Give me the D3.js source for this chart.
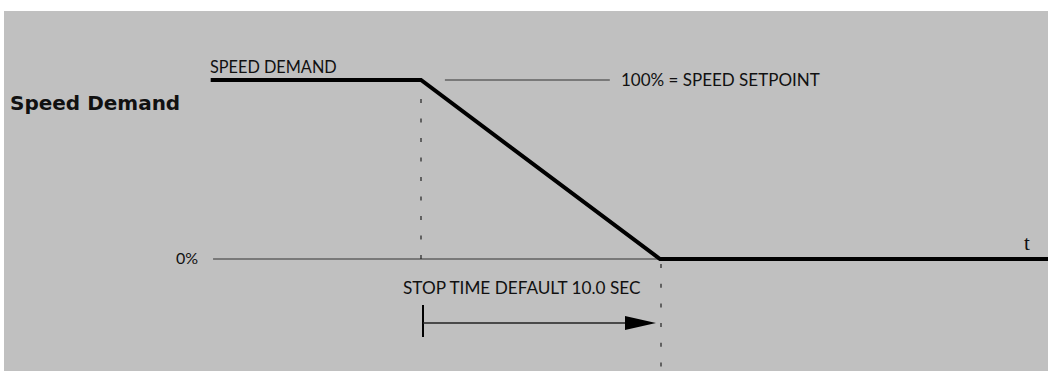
<!DOCTYPE html>
<html>
<head>
<meta charset="utf-8">
<script src="https://cdn.jsdelivr.net/npm/d3@7"></script>
<style>
  body { margin: 0; background: #fff; }
  svg { display: block; }
  text { font-family: 'Lato', 'DejaVu Sans', sans-serif; fill: #111; }
</style>
</head>
<body>
<div id="chart"></div>
<script>
// stop ramp: time in seconds (0 = stop command), speed demand in %
var demandTime = [-8.8, 0, 10, 16.2]
var demandPct = [100, 100, 0, 0]
var stopTime = 10.0
var zeroLineStart = -8.7
var setpointLine = [1, 7.9]

var width = 1048
var height = 371

var svg = d3
  .select('#chart')
  .append('svg')
  .attr('width', width)
  .attr('height', height)

svg
  .append('rect')
  .attr('x', 4)
  .attr('y', 11)
  .attr('width', width - 4)
  .attr('height', height - 11)
  .attr('fill', '#c0c0c0')

var x = d3.scaleLinear().domain([0, stopTime]).range([421, 660])
var y = d3.scaleLinear().domain([0, 100]).range([259, 80])

// extend last point to right edge
demandTime[3] = x.invert(width)

// 0% reference line
svg
  .append('line')
  .attr('x1', x(zeroLineStart))
  .attr('x2', x(stopTime))
  .attr('y1', y(0))
  .attr('y2', y(0))
  .attr('stroke', '#333')
  .attr('stroke-width', 1.2)

// setpoint leader line
svg
  .append('line')
  .attr('x1', x(setpointLine[0]))
  .attr('x2', x(setpointLine[1]))
  .attr('y1', y(100))
  .attr('y2', y(100))
  .attr('stroke', '#333')
  .attr('stroke-width', 1.2)

// dashed markers
svg
  .append('line')
  .attr('x1', x(0))
  .attr('x2', x(0))
  .attr('y1', y(100) + 19)
  .attr('y2', y(0))
  .attr('stroke', '#222')
  .attr('stroke-width', 1.2)
  .attr('stroke-dasharray', '4,15.5')

svg
  .append('line')
  .attr('x1', x(stopTime) + 1)
  .attr('x2', x(stopTime) + 1)
  .attr('y1', y(0) + 5)
  .attr('y2', height)
  .attr('stroke', '#222')
  .attr('stroke-width', 1.2)
  .attr('stroke-dasharray', '4,15.7')

var line = d3
  .line()
  .x(function(d, i) { return x(demandTime[i]) })
  .y(function(d) { return y(d) })

svg
  .append('path')
  .datum(demandPct)
  .attr('d', line)
  .attr('fill', 'none')
  .attr('stroke', '#000')
  .attr('stroke-width', 4)
  .attr('stroke-linejoin', 'miter')

// stop time arrow
var arrowY = 323
svg
  .append('line')
  .attr('x1', x(0) + 2)
  .attr('x2', x(0) + 2)
  .attr('y1', 305)
  .attr('y2', 337)
  .attr('stroke', '#000')
  .attr('stroke-width', 2)

svg
  .append('line')
  .attr('x1', x(0) + 2)
  .attr('x2', x(stopTime) - 30)
  .attr('y1', arrowY)
  .attr('y2', arrowY)
  .attr('stroke', '#222')
  .attr('stroke-width', 1.3)

var tip = x(stopTime) - 4
svg
  .append('path')
  .attr('d', 'M' + (tip - 31) + ',' + (arrowY - 7) + 'L' + tip + ',' + arrowY + 'L' + (tip - 31) + ',' + (arrowY + 7) + 'Z')
  .attr('fill', '#000')

// labels
svg
  .append('text')
  .attr('x', 10)
  .attr('y', 110)
  .attr('font-size', 20)
  .attr('font-weight', 'bold')
  .style('font-family', 'DejaVu Sans')
  .text('Speed Demand')

svg
  .append('text')
  .attr('x', 210)
  .attr('y', 73)
  .attr('font-size', 16.3)
  .text('SPEED DEMAND')

svg
  .append('text')
  .attr('x', 621)
  .attr('y', 86)
  .attr('font-size', 17)
  .text('100% = SPEED SETPOINT')

svg
  .append('text')
  .attr('x', 198)
  .attr('y', 264)
  .attr('font-size', 16)
  .attr('text-anchor', 'end')
  .text('0%')

svg
  .append('text')
  .attr('x', 1024)
  .attr('y', 250)
  .attr('font-size', 21)
  .style('font-family', 'Liberation Serif, serif')
  .text('t')

svg
  .append('text')
  .attr('x', 403)
  .attr('y', 294)
  .attr('font-size', 17.2)
  .text('STOP TIME DEFAULT ' + stopTime.toFixed(1) + ' SEC')
</script>
</body>
</html>
